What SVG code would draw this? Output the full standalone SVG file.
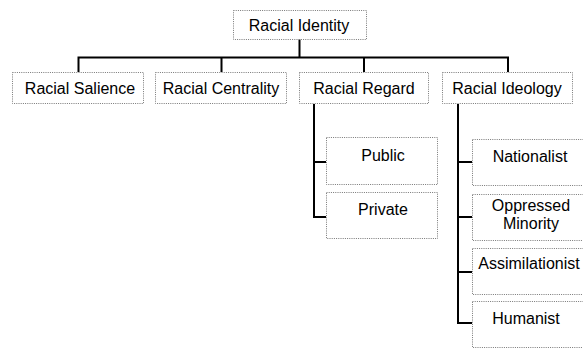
<svg xmlns="http://www.w3.org/2000/svg" width="583" height="348" viewBox="0 0 583 348">
<style>
.box{fill:#fff;stroke:#777;stroke-width:1;stroke-dasharray:1 1.2}
.t{font-family:"Liberation Sans",Arial,sans-serif;font-size:16px;fill:#000;text-anchor:middle}
.c{fill:none;stroke:#000;stroke-width:2}
</style>
<rect width="583" height="348" fill="#fff"/>
<g id="connectors">
<path class="c" d="M299.5 39V57.5M78.5 72V57.5H508V72M221.5 57.5V72M364 57.5V72"/>
<path class="c" d="M314 104V217H326M314 162H326"/>
<path class="c" d="M458 104V323H472M458 162H472M458 217H472M458 272H472"/>
</g>
<g id="racial-identity"><rect class="box" x="233.5" y="10.5" width="133" height="29"/><text class="t" x="299" y="31">Racial Identity</text></g>
<g id="racial-salience"><rect class="box" x="12.5" y="72.5" width="131" height="31"/><text class="t" x="80" y="94">Racial Salience</text></g>
<g id="racial-centrality"><rect class="box" x="155.5" y="72.5" width="131" height="31"/><text class="t" x="221" y="94">Racial Centrality</text></g>
<g id="racial-regard"><rect class="box" x="299.5" y="72.5" width="129" height="31"/><text class="t" x="364" y="94">Racial Regard</text></g>
<g id="racial-ideology"><rect class="box" x="442.5" y="72.5" width="130" height="31"/><text class="t" x="507" y="94">Racial Ideology</text></g>
<g id="public"><rect class="box" x="326.5" y="137.5" width="111" height="47"/><text class="t" x="383" y="161">Public</text></g>
<g id="private"><rect class="box" x="326.5" y="192.5" width="111" height="46"/><text class="t" x="383" y="215">Private</text></g>
<g id="nationalist"><rect class="box" x="472.5" y="139.5" width="112" height="46"/><text class="t" x="530" y="162">Nationalist</text></g>
<g id="oppressed-minority"><rect class="box" x="472.5" y="194.5" width="112" height="46"/><text class="t" x="531" y="211">Oppressed</text><text class="t" x="531" y="229">Minority</text></g>
<g id="assimilationist"><rect class="box" x="472.5" y="248.5" width="112" height="46"/><text class="t" x="529" y="269">Assimilationist</text></g>
<g id="humanist"><rect class="box" x="472.5" y="301.5" width="112" height="46"/><text class="t" x="526" y="324">Humanist</text></g>
</svg>
